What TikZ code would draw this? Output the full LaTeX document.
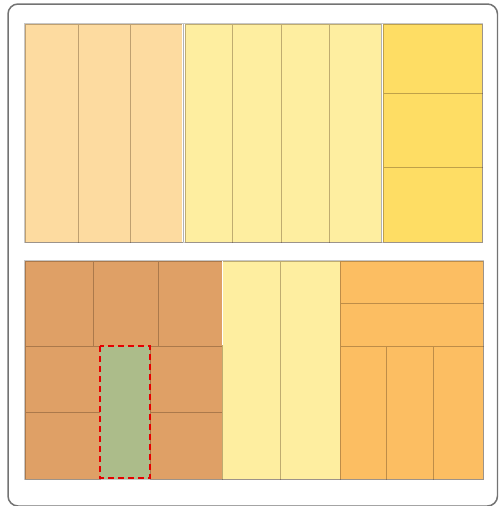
\documentclass[tikz,border=0pt]{standalone}
\definecolor{cpeach}{RGB}{253,219,160}
\definecolor{cyel}{RGB}{254,238,160}
\definecolor{cgold}{RGB}{254,221,100}
\definecolor{cbrown}{RGB}{223,160,102}
\definecolor{corange}{RGB}{252,190,98}
\definecolor{cgreen}{RGB}{172,188,138}
\begin{document}
\begin{tikzpicture}[x=1pt,y=-1pt,
  cell/.style={draw=black!60!brown, draw opacity=0.35, line width=0.8pt},
  panel/.style={draw=black!22, line width=1.8pt},
  sep/.style={draw=white, line width=2.5pt},
  sepline/.style={draw=black!30, line width=0.8pt},
  frame/.style={draw=black!55, line width=1.5pt, rounded corners=10pt},
  pick/.style={draw=red!90!black, line width=1.6pt, dash pattern=on 6pt off 4pt}]
\useasboundingbox (0,0) rectangle (498,506);
\begin{scope}
\clip (0,0) rectangle (498,506);
\draw[frame] (8,4) rectangle (497.5,506);
\end{scope}
% top panel
\draw[panel] (25,24) rectangle (482,242);
\foreach \a/\b in {25/78,78/130,130/182}
  \path[fill=cpeach,cell] (\a,24) rectangle (\b,242);
\foreach \a/\b in {185/232,232/281,281/329,329/381}
  \path[fill=cyel,cell] (\a,24) rectangle (\b,242);
\foreach \a/\b in {24/93,93/167,167/242}
  \path[fill=cgold,cell] (383,\a) rectangle (482,\b);
\draw[sep] (183.5,24) -- (183.5,242);
\draw[sepline] (183,24) -- (183,242);
\draw[sep] (382,24) -- (382,242);
\draw[sepline] (381,24) -- (381,242);
% bottom panel
\draw[panel] (25,261) rectangle (483,479);
\foreach \a/\b in {25/93,93/158,158/222}
  \path[fill=cbrown,cell] (\a,261) rectangle (\b,346);
\foreach \a/\b in {346/412,412/479}{
  \path[fill=cbrown,cell] (25,\a) rectangle (100,\b);
  \path[fill=cbrown,cell] (150,\a) rectangle (222,\b);}
\path[fill=cgreen] (100,346) rectangle (150,479);
\foreach \a/\b in {222/280,280/340}
  \path[fill=cyel,cell] (\a,261) rectangle (\b,479);
\foreach \a/\b in {261/303,303/346}
  \path[fill=corange,cell] (340,\a) rectangle (483,\b);
\foreach \a/\b in {340/386,386/433,433/483}
  \path[fill=corange,cell] (\a,346) rectangle (\b,479);
\draw[white, line width=1pt] (222,261) -- (222,345);
\draw[pick] (100,346) rectangle (150,478);
\end{tikzpicture}
\end{document}
